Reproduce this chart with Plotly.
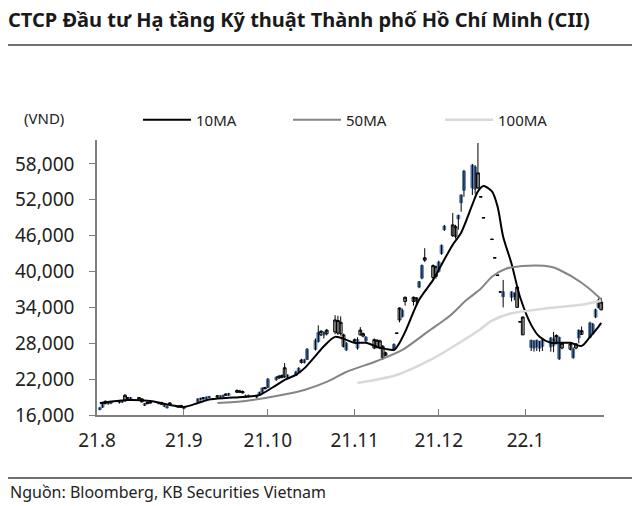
import pandas as pd
import plotly.graph_objects as go

# ---------------- data ----------------
holidays = ["2021-09-02", "2021-09-03"]
dates = pd.bdate_range("2021-08-02", "2022-01-28", freq="C", holidays=holidays)

open_ = [
    # Aug
    17200, 17900, 17900, 18200, 18200, 18300, 18400, 18400, 18700, 18900, 18700, 18200,
    17900, 17900, 18000, 18100, 17800, 17600, 17400, 17800, 17500, 17300,
    # Sep
    17300, 18700, 18800, 18700, 19000, 19100, 19000, 19200, 19300, 19300, 19600, 19800,
    19800, 19700, 19200, 19300, 19200, 19800, 20500, 20400,
    # Oct
    22000, 22300, 22200, 22300, 22400, 22700, 23200, 23800, 24800, 25200, 27000, 28500,
    29800, 29400, 29800, 29600, 29900, 29700, 29600, 27500, 28000,
    # Nov
    28100, 28600, 29400, 29200, 29000, 27200, 27300, 27200, 25600, 26000, 27800, 29650,
    31900, 33500, 35000, 35000, 35100, 38300, 41000, 41900, 39000, 39200,
    # Dec
    41600, 44400, 47600, 46000, 45900, 49400, 52800, 56800, 57800, 57500, 54000, 52450,
    48950, 45350, 42250, 39350, 36550, 36600, 36600, 36400, 34000, 31550, 29400,
    # Jan
    28500, 28400, 28500, 28300, 28600, 28900, 28700, 28000, 29000, 27200, 27000, 27000,
    27200, 30200, 29500, 31400, 31200, 33600, 35200, 33600,
]
high = [
    17300, 18000, 18400, 18300, 18300, 18400, 18500, 19500, 19000, 19000, 19000, 18800,
    18000, 18200, 18200, 18200, 18200, 17800, 17600, 18100, 17600, 17700,
    17400, 18800, 18900, 19000, 19100, 19200, 19300, 19300, 19400, 19600, 19700, 20300,
    20200, 20100, 19400, 19400, 19300, 19900, 20600, 20700,
    22200, 22500, 22700, 22800, 24700, 22800, 23400, 24000, 25400, 25400, 27200, 28800,
    31000, 30200, 30000, 30400, 32700, 32600, 32500, 29600, 28200,
    28800, 29000, 30700, 29800, 29200, 28800, 28700, 28600, 27700, 26600, 28000, 29700,
    34000, 33800, 35800, 35800, 35700, 38400, 41200, 43900, 41200, 41000,
    41800, 44500, 47800, 49800, 47800, 49500, 52900, 57000, 58000, 57800, 61500, 52500,
    49000, 45400, 42300, 39400, 36600, 38600, 36700, 36500, 37500, 31600, 32400,
    28600, 28500, 28600, 28400, 28700, 29000, 29900, 29500, 29100, 28200, 28100, 27300,
    28000, 30300, 30800, 31600, 31400, 33800, 35500, 35600,
]
low = [
    16800, 17200, 17800, 17700, 17800, 17900, 18000, 18200, 18600, 18600, 18600, 18100,
    17500, 17800, 17900, 17800, 17700, 17300, 17100, 17700, 17200, 17200,
    16900, 18100, 18400, 18600, 18600, 18800, 18900, 18900, 19000, 19200, 19200, 19700,
    19700, 19600, 18900, 18900, 18800, 19200, 19700, 20300,
    20500, 21700, 22000, 22100, 22200, 22100, 22500, 23100, 24600, 24600, 25200, 26800,
    28100, 29200, 28800, 29300, 29500, 29400, 29300, 27300, 26700,
    28000, 26900, 29300, 29000, 28200, 27000, 27100, 27000, 25200, 25900, 26700, 29650,
    31500, 32300, 34300, 34300, 34400, 37200, 38700, 41600, 38600, 38800,
    39800, 42800, 46800, 45800, 45500, 47000, 50000, 52500, 52800, 53000, 53800, 52450,
    48950, 45350, 42250, 39350, 36550, 34000, 35000, 35200, 34000, 31550, 29400,
    26700, 26600, 26700, 26600, 26700, 26600, 26500, 27800, 25200, 27000, 26800, 25400,
    27000, 28000, 29400, 28800, 29400, 32200, 33800, 33500,
]
close = [
    16900, 17300, 18300, 17900, 18000, 18100, 18200, 19300, 18900, 18700, 18900, 18700,
    17600, 18100, 18100, 17900, 18100, 17500, 17200, 18000, 17300, 17600,
    17100, 18200, 18600, 18900, 18700, 18900, 19200, 19000, 19100, 19500, 19300, 20100,
    20000, 19900, 19000, 19100, 19000, 19300, 19800, 20600,
    20600, 21900, 22500, 22600, 23900, 22300, 22600, 23200, 25200, 24800, 25300, 27000,
    28300, 30000, 29400, 30200, 31900, 31800, 31500, 29400, 26900,
    28600, 27200, 30200, 29600, 28400, 28600, 28500, 28400, 27500, 26400, 26900, 29700,
    33900, 32500, 35700, 35700, 35600, 37400, 38900, 42300, 41000, 40800,
    40000, 43000, 47000, 47800, 47500, 48800, 51500, 53600, 54000, 53800, 56500, 52500,
    49000, 45400, 42300, 39400, 36600, 35800, 35700, 35800, 37400, 31600, 32400,
    27300, 27200, 27400, 27200, 27500, 27400, 27600, 29300, 25400, 28000, 27900, 25600,
    27900, 28900, 30100, 29000, 29600, 32400, 34000, 34900,
]

ma10_dates = ["2021-08-02", "2021-08-05", "2021-08-12", "2021-08-20", "2021-08-27", "2021-09-01",
              "2021-09-06", "2021-09-10", "2021-09-16", "2021-09-22", "2021-09-28", "2021-10-04",
              "2021-10-07", "2021-10-11", "2021-10-14", "2021-10-18", "2021-10-21", "2021-10-25",
              "2021-10-29", "2021-11-01", "2021-11-05", "2021-11-09", "2021-11-12", "2021-11-15",
              "2021-11-17", "2021-11-19", "2021-11-24", "2021-11-29", "2021-12-01", "2021-12-06",
              "2021-12-09", "2021-12-13", "2021-12-15", "2021-12-17", "2021-12-20", "2021-12-22",
              "2021-12-24", "2021-12-27", "2021-12-30", "2022-01-03", "2022-01-06", "2022-01-10",
              "2022-01-12", "2022-01-17", "2022-01-21", "2022-01-24", "2022-01-27", "2022-01-28"]
ma10_vals = [18000, 18180, 18510, 18340, 17680, 17340,
             18000, 18600, 18850, 19020, 19350, 21000,
             21870, 22700, 23800, 25900, 27500, 29070,
             28570, 28070, 28070, 27400, 27060, 26890,
             28070, 29910, 35270, 38600, 40300, 44490,
             46500, 51200, 53400, 54300, 53400, 50860,
             45830, 41300, 35780, 31080, 29070, 28070,
             28070, 28070, 27560, 29070, 30750, 31400]

ma50_dates = ["2021-09-13", "2021-09-23", "2021-10-04", "2021-10-14", "2021-10-22", "2021-10-29",
              "2021-11-09", "2021-11-18", "2021-11-27", "2021-12-05", "2021-12-11", "2021-12-16",
              "2021-12-20", "2021-12-25", "2022-01-02", "2022-01-10", "2022-01-13", "2022-01-21",
              "2022-01-27", "2022-01-28"]
ma50_vals = [18000, 18350, 19180, 20190, 21530, 23200,
             25040, 26890, 29900, 32590, 35270, 37120,
             39130, 40470, 40970, 40800, 40300, 38120,
             35780, 35270]

ma100_dates = ["2021-11-02", "2021-11-16", "2021-11-28", "2021-12-10", "2021-12-16", "2021-12-20",
               "2021-12-26", "2022-01-03", "2022-01-10", "2022-01-21", "2022-01-28"]
ma100_vals = [21360, 22700, 25210, 28560, 30400, 31800,
              32900, 33500, 33930, 34430, 35100]

x_tick_vals = ["2021-08-01", "2021-09-01", "2021-10-01", "2021-11-01", "2021-12-01", "2022-01-01"]
x_tick_text = ["21.8", "21.9", "21.10", "21.11", "21.12", "22.1"]
y_tick_vals = [16000, 22000, 28000, 34000, 40000, 46000, 52000, 58000]
y_tick_text = ["16,000", "22,000", "28,000", "34,000", "40,000", "46,000", "52,000", "58,000"]

# ---------------- styling ----------------
W, H = 640, 506
# plot area in window pixels: x 97..604, y 140..415
ML, MR, MT, MB = 97, 640 - 604, 140, 506 - 415
PW, PH = W - ML - MR, H - MT - MB
FONT = "Noto Sans"
BLUE = "#5b7fb5"
AXIS = "#7f7f7f"
TXT = "#222222"


def px_x(px):
    return (px - ML) / PW


def px_y(py):
    return (H - MB - py) / PH


# wick segments built from the high/low arrays
wx, wy = [], []
for d, lo, hi in zip(dates, low, high):
    wx += [d, d, None]
    wy += [lo, hi, None]

body_hi = [max(o, c) for o, c in zip(open_, close)]
body_lo = [min(o, c) for o, c in zip(open_, close)]

fig = go.Figure()
fig.add_trace(go.Scatter(x=wx, y=wy, mode="lines", line=dict(color="black", width=1),
                         hoverinfo="skip", showlegend=False))
fig.add_trace(go.Candlestick(
    x=dates, open=open_, high=body_hi, low=body_lo, close=close,
    increasing=dict(fillcolor="white", line=dict(color="black", width=1)),
    decreasing=dict(fillcolor=BLUE, line=dict(color=BLUE, width=1)),
    whiskerwidth=0, showlegend=False))
fig.add_trace(go.Scatter(x=ma10_dates, y=ma10_vals, mode="lines", name="10MA", legend="legend",
                         line=dict(color="black", width=2, shape="spline", smoothing=0.8)))
fig.add_trace(go.Scatter(x=ma50_dates, y=ma50_vals, mode="lines", name="50MA", legend="legend2",
                         line=dict(color="#858585", width=2, shape="spline", smoothing=0.8)))
fig.add_trace(go.Scatter(x=ma100_dates, y=ma100_vals, mode="lines", name="100MA", legend="legend3",
                         line=dict(color="#d9d9d9", width=2.5, shape="spline", smoothing=0.8)))


def legend_at(px):
    return dict(orientation="h", xref="container", yref="container",
                x=px / W, xanchor="left", y=1 - 120 / H, yanchor="middle",
                itemwidth=48, font=dict(family=FONT, size=15, color=TXT),
                bgcolor="rgba(0,0,0,0)")


fig.update_layout(
    width=W, height=H,
    margin=dict(l=ML, r=MR, t=MT, b=MB, autoexpand=False),
    paper_bgcolor="white", plot_bgcolor="white",
    font=dict(family=FONT, size=15, color=TXT),
    boxgap=0, boxgroupgap=0,
    title=dict(text="<b>CTCP Đầu tư Hạ tầng Kỹ thuật Thành phố Hồ Chí Minh (CII)</b>",
               x=8 / W, xanchor="left", y=1 - 20 / H, yanchor="middle",
               font=dict(family=FONT, size=20, color="#1a1a1a")),
    showlegend=True,
    legend=legend_at(138),
    legend2=legend_at(288),
    legend3=legend_at(440),
    xaxis=dict(type="date", range=["2021-08-01", "2022-01-29"],
               tickvals=x_tick_vals, ticktext=x_tick_text,
               ticks="inside", ticklen=6, tickcolor=AXIS, tickwidth=1,
               showline=True, linecolor=AXIS, linewidth=1.5,
               showgrid=False, zeroline=False,
               rangeslider=dict(visible=False),
               tickfont=dict(family=FONT, size=19, color=TXT),
               ticklabelstandoff=7),
    yaxis=dict(range=[16000, 62000], tickvals=y_tick_vals, ticktext=y_tick_text,
               ticks="outside", ticklen=6, tickcolor=AXIS, tickwidth=1,
               showline=True, linecolor=AXIS, linewidth=1.5,
               showgrid=False, zeroline=False,
               tickfont=dict(family=FONT, size=19, color=TXT),
               ticklabelstandoff=11),
    annotations=[
        dict(text="(VND)", xref="paper", yref="paper", x=px_x(22), y=px_y(118),
             xanchor="left", yanchor="middle", showarrow=False,
             font=dict(family=FONT, size=15, color=TXT)),
        dict(text="Nguồn: Bloomberg, KB Securities Vietnam", xref="paper", yref="paper",
             x=px_x(8), y=px_y(492), xanchor="left", yanchor="middle", showarrow=False,
             font=dict(family=FONT, size=16, color=TXT)),
    ],
    shapes=[
        dict(type="line", xref="paper", yref="paper", x0=px_x(8), x1=px_x(632),
             y0=px_y(45), y1=px_y(45), line=dict(color="#404040", width=1.5)),
        dict(type="line", xref="paper", yref="paper", x0=px_x(8), x1=px_x(632),
             y0=px_y(478), y1=px_y(478), line=dict(color="#404040", width=1.5)),
    ],
)

# remove the browser's default 8px page margin so the figure fills the window exactly
fig.write_html("out.html", config={"displayModeBar": False},
               post_script="document.body.style.margin='0';")
